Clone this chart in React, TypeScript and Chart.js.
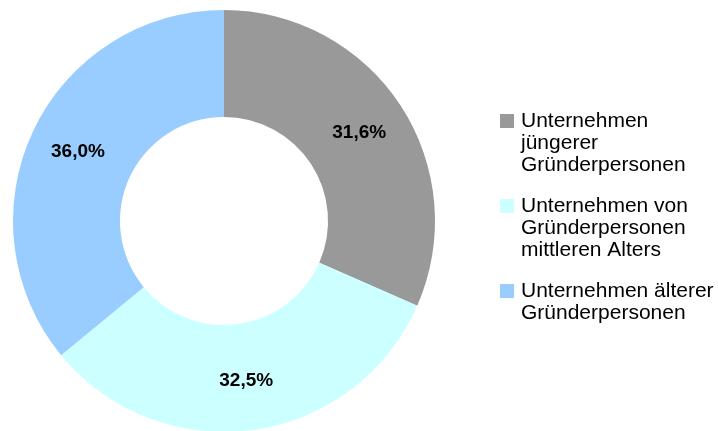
import React, { useEffect, useRef } from "react";
import { Chart, registerables } from "chart.js";

Chart.register(...registerables);

const categories: string[][] = [
  ["Unternehmen", "jüngerer", "Gründerpersonen"],
  ["Unternehmen von", "Gründerpersonen", "mittleren Alters"],
  ["Unternehmen älterer", "Gründerpersonen"],
];
const values: number[] = [31.6, 32.5, 36.0];
const valueLabels: string[] = ["31,6%", "32,5%", "36,0%"];
const colors: string[] = ["#999999", "#CCFFFF", "#99CCFF"];

const FONT = '"Liberation Sans", Arial, sans-serif';

const overlayPlugin = {
  id: "overlay",
  afterDatasetsDraw(chart: any) {
    const ctx = chart.ctx;
    const meta = chart.getDatasetMeta(0);
    ctx.save();
    // value labels
    ctx.font = `bold 19px ${FONT}`;
    ctx.fillStyle = "#000000";
    ctx.textAlign = "center";
    ctx.textBaseline = "middle";
    meta.data.forEach((arc: any, i: number) => {
      const p = arc.getProps(["x", "y", "startAngle", "endAngle", "innerRadius", "outerRadius"], true);
      const mid = (p.startAngle + p.endAngle) / 2;
      const r = (p.innerRadius + p.outerRadius) / 2 + 4;
      ctx.fillText(valueLabels[i], p.x + Math.cos(mid) * r, p.y + Math.sin(mid) * r);
    });
    // legend
    ctx.font = `21px ${FONT}`;
    ctx.textAlign = "left";
    ctx.textBaseline = "alphabetic";
    const lineH = 22;
    const groupGap = 41;
    let baseline = 127;
    categories.forEach((lines, i) => {
      ctx.fillStyle = colors[i];
      ctx.fillRect(500, baseline - 13, 14, 14);
      ctx.fillStyle = "#000000";
      lines.forEach((t, j) => {
        ctx.fillText(t, 521, baseline + j * lineH);
      });
      baseline += (lines.length - 1) * lineH + groupGap;
    });
    ctx.restore();
  },
};

export default function App() {
  const ref = useRef<HTMLCanvasElement>(null);
  useEffect(() => {
    if (!ref.current) return;
    const chart = new Chart(ref.current, {
      type: "doughnut",
      data: {
        labels: categories.map((c) => c.join(" ")),
        datasets: [
          {
            data: values,
            backgroundColor: colors,
            borderWidth: 0,
            hoverOffset: 0,
            offset: 0,
          },
        ],
      },
      options: {
        responsive: false,
        animation: false,
        cutout: "49.3%",
        rotation: 0,
        layout: { padding: { left: 13, top: 10, right: 283, bottom: 0 } },
        plugins: {
          legend: { display: false },
          tooltip: { enabled: false },
        },
      },
      plugins: [overlayPlugin],
    });
    return () => chart.destroy();
  }, []);
  return (
    <div style={{ position: "absolute", left: 0, top: 0, width: 718, height: 431, overflow: "hidden", background: "#fff" }}>
      <canvas ref={ref} width={718} height={432} style={{ display: "block" }} />
    </div>
  );
}
